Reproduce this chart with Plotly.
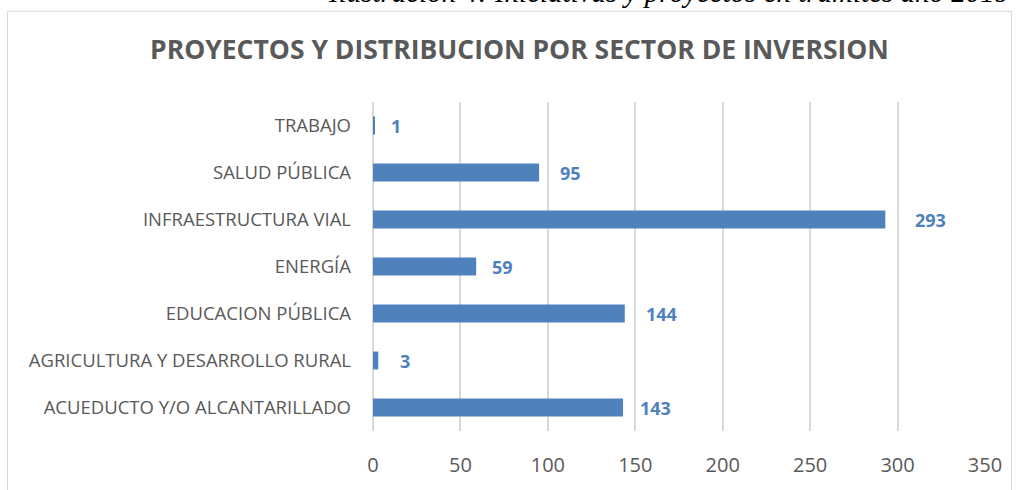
import plotly.graph_objects as go

categories = ["ACUEDUCTO Y/O ALCANTARILLADO", "AGRICULTURA Y DESARROLLO RURAL",
              "EDUCACION PÚBLICA", "ENERGÍA", "INFRAESTRUCTURA VIAL",
              "SALUD PÚBLICA", "TRABAJO"]
values = [143, 3, 144, 59, 293, 95, 1]
x_ticks = [0, 50, 100, 150, 200, 250, 300, 350]
# pixel gap between bar end and its data label (as placed in the original)
label_gaps = [17, 22, 21, 16, 30, 21, 16]

FONT = "Open Sans, sans-serif"
BLUE = "#4F81BD"
GRAY = "#595959"

fig = go.Figure(go.Bar(
    y=categories, x=values, orientation="h",
    marker=dict(color=BLUE, line=dict(width=0)),
    width=0.38, hoverinfo="skip",
))

for c, v, g in zip(categories, values, label_gaps):
    fig.add_annotation(x=v, y=c, text=f"<b>{v}</b>", showarrow=False,
                       xanchor="left", xshift=g - 2,
                       font=dict(family=FONT, size=18, color=BLUE))

L, R, T, B = 373, 31, 102, 56
W, H = 1016, 490
pw = W - L - R
ph = H - T - B

def px2x(p):
    return (p - L) / pw

def py2y(p):
    return 1 - (p - T) / ph

fig.add_shape(type="rect", xref="paper", yref="paper",
              x0=px2x(7.5), x1=px2x(1011.5), y0=py2y(500), y1=py2y(10.5),
              line=dict(color="#D9D9D9", width=1), fillcolor="rgba(0,0,0,0)",
              layer="below")

fig.add_annotation(xref="paper", yref="paper", x=px2x(1012), y=py2y(9),
                   xanchor="right", yanchor="bottom", showarrow=False,
                   text="<i>Ilustración 4: Iniciativas y proyectos en trámites año 2019</i>",
                   font=dict(family="Liberation Serif, serif", size=29, color="#000000"))

fig.add_annotation(xref="paper", yref="paper", x=px2x(519), y=py2y(49),
                   xanchor="center", yanchor="middle", showarrow=False,
                   text="<b>PROYECTOS Y DISTRIBUCION POR SECTOR DE INVERSION</b>",
                   font=dict(family=FONT, size=26.5, color=GRAY))

fig.update_layout(
    width=W, height=H,
    margin=dict(l=L, r=R, t=T, b=B),
    paper_bgcolor="white", plot_bgcolor="white",
    showlegend=False,
    font=dict(family=FONT, color=GRAY),
    xaxis=dict(range=[0, 350], tickvals=x_ticks, showgrid=True,
               gridcolor="#D9D9D9", gridwidth=1.5, zeroline=True,
               zerolinecolor="#D9D9D9", zerolinewidth=1.5, showline=False,
               ticks="", ticklabelstandoff=20,
               tickfont=dict(family=FONT, size=20, color=GRAY)),
    yaxis=dict(categoryorder="array", categoryarray=categories,
               range=[-0.5, 6.5], showgrid=False, zeroline=False,
               showline=False, ticks="", ticklabelstandoff=21,
               tickfont=dict(family=FONT, size=18.5, color=GRAY)),
)

fig.write_html("out.html", config={"displayModeBar": False},
               post_script="document.body.style.margin='0px';")
